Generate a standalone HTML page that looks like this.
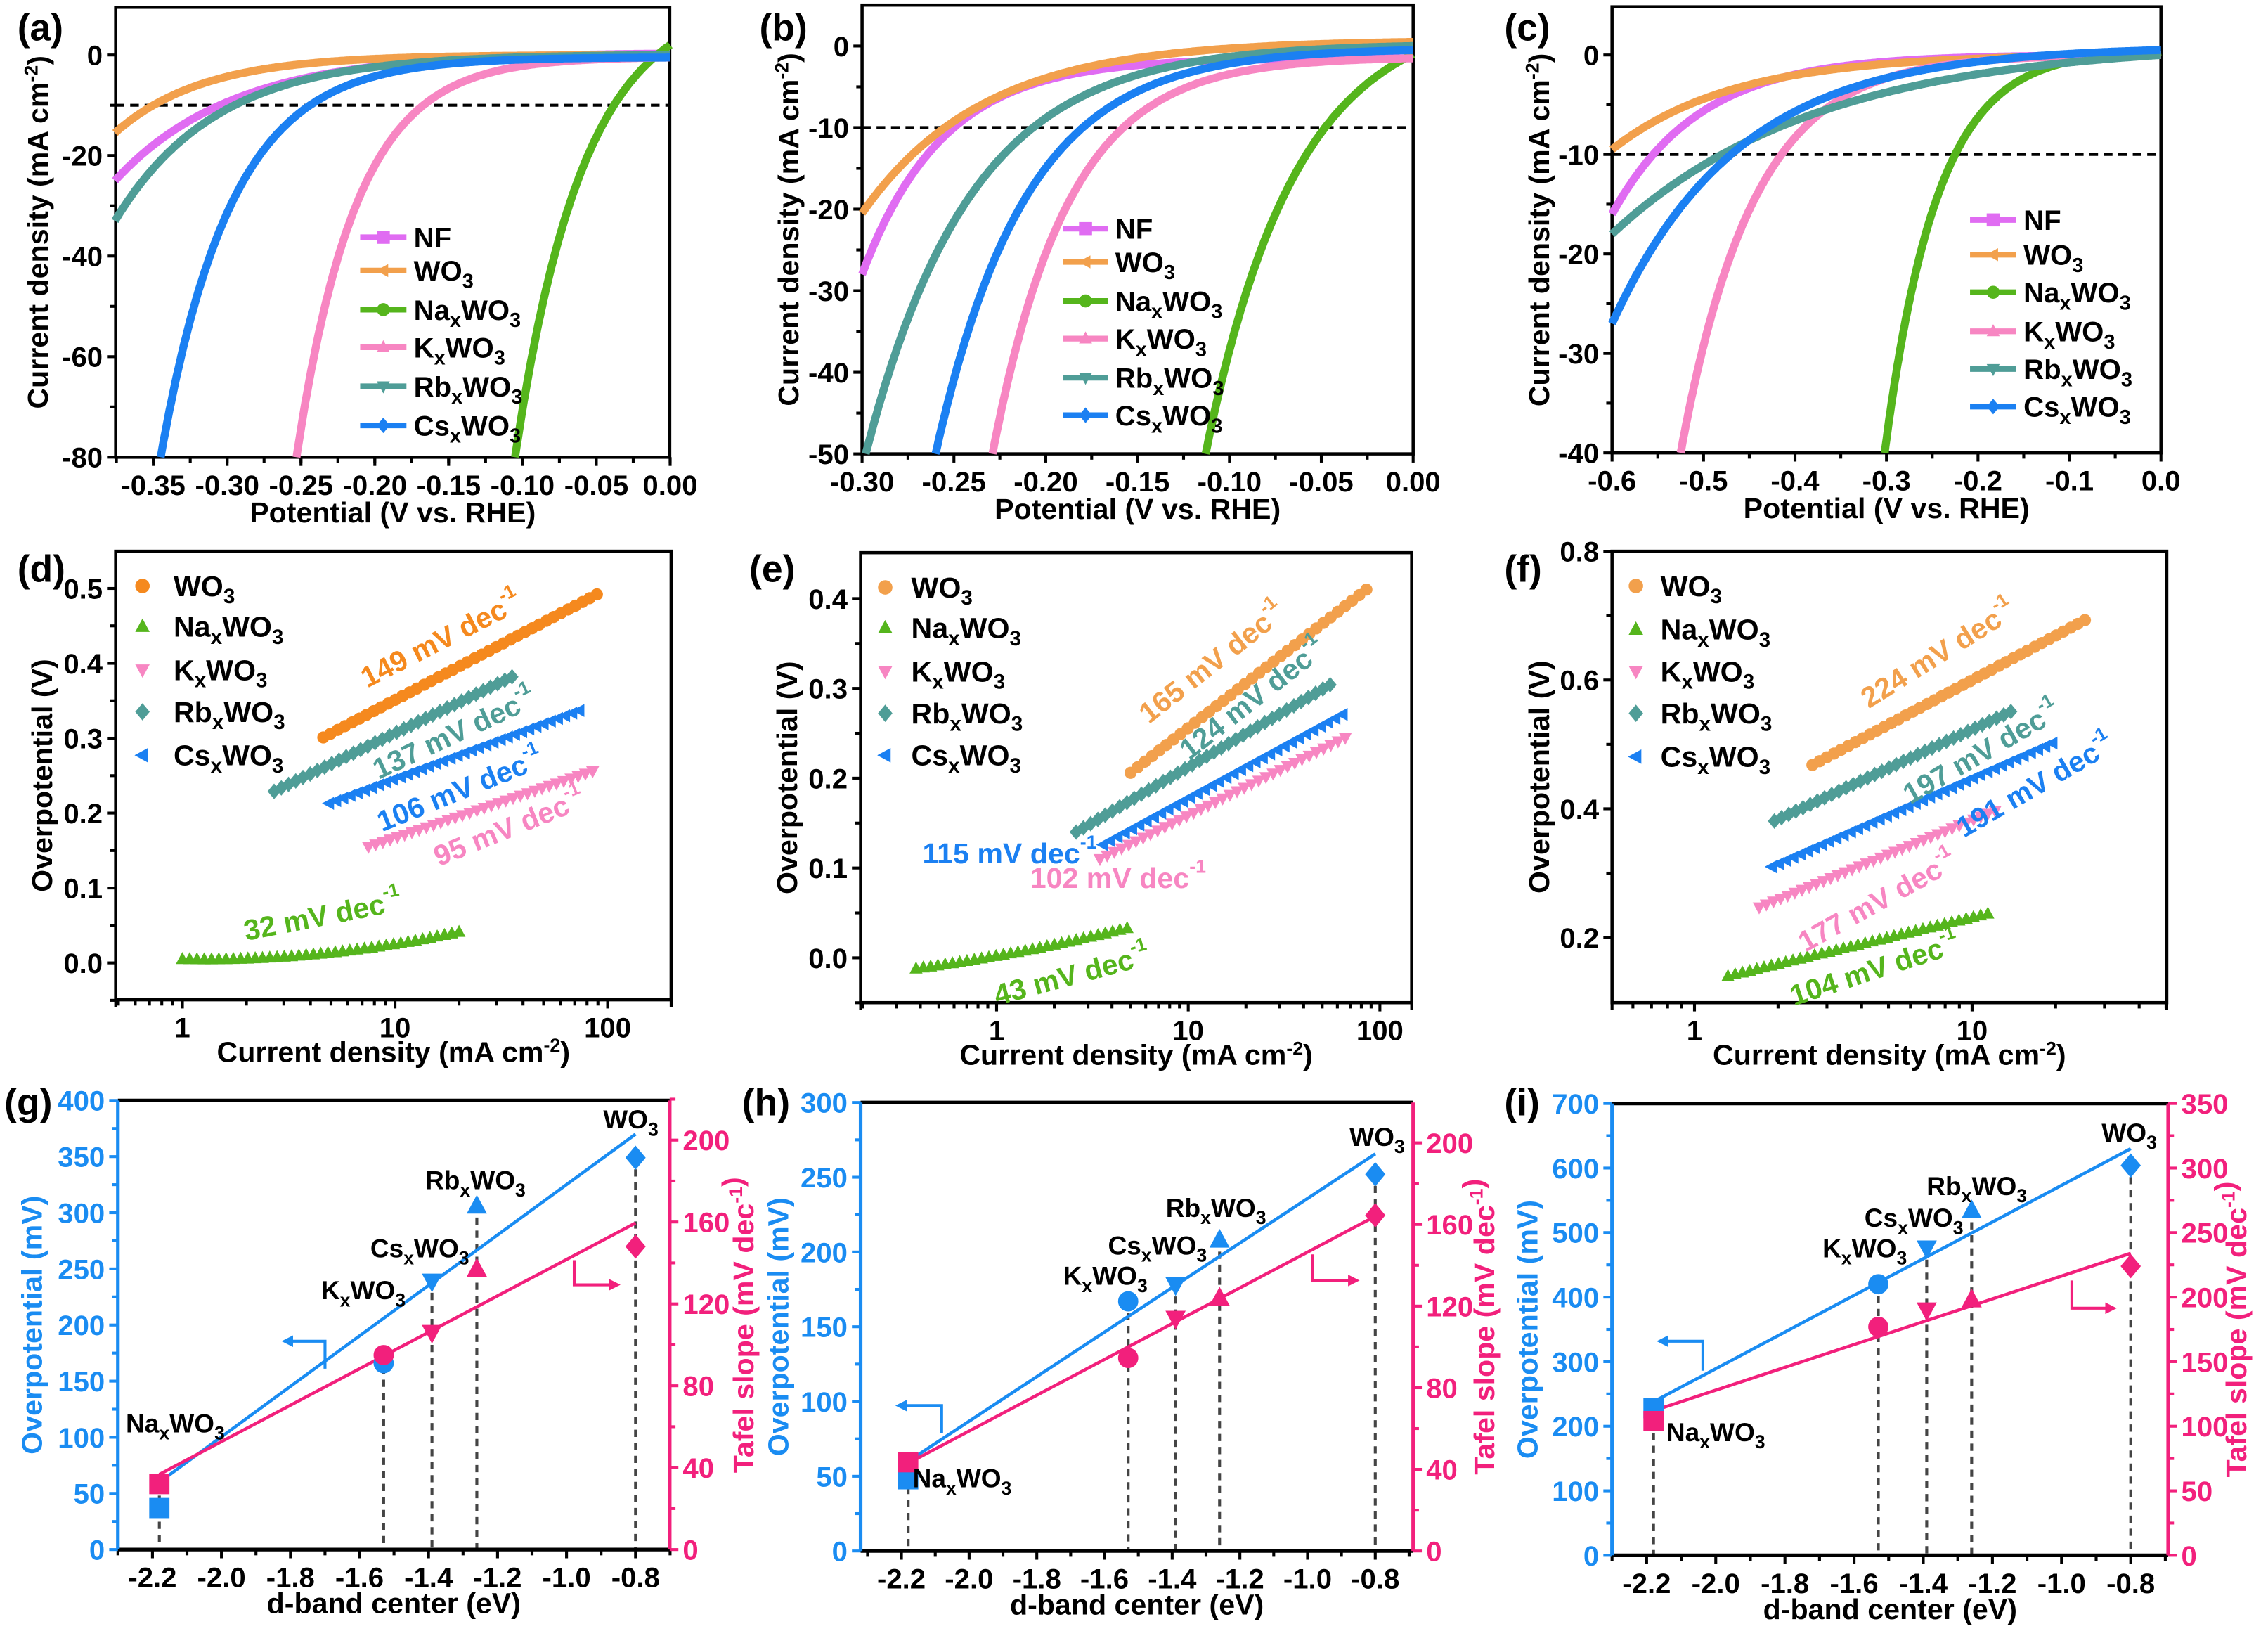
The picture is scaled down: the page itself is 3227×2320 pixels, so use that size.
<!DOCTYPE html>
<html><head><meta charset="utf-8"><style>
html,body{margin:0;padding:0;background:#fff;}
svg{display:block;font-family:"Liberation Sans",Arial,sans-serif;font-weight:bold;}
</style></head><body>
<svg id="s" width="3227" height="2320" viewBox="0 0 1568 1127.3" preserveAspectRatio="none" xmlns="http://www.w3.org/2000/svg"></svg>
<script>
const o=[];
const lin=(p0,p1,v0,v1)=>v=>p0+(v-v0)*(p1-p0)/(v1-v0);
const L10=Math.log10;
function T(x,y,txt,opt={}){
  const fs=opt.fs||19,c=opt.c||'#000',a=opt.a||'start';
  const tr=opt.r!=null?` transform="rotate(${opt.r} ${x} ${y})"`:'';
  const db=opt.mid?` dominant-baseline="central"`:'';
  o.push(`<text x="${x}" y="${y}" font-size="${fs}" fill="${c}" text-anchor="${a}"${db}${tr}>${txt}</text>`);
}
const sub=s=>`<tspan dy="5" font-size="72%">${s}</tspan>`;
const chem=pre=>pre?`${pre}${sub('x')}<tspan dy="-5">WO</tspan>${sub('3')}`:`WO${sub('3')}`;
const dec=`dec<tspan dy="-8" font-size="65%">-1</tspan>`;
const cm2=`cm<tspan dy="-7" font-size="65%">-2</tspan><tspan dy="7">)</tspan>`;
function line(x1,y1,x2,y2,c,w,extra=''){o.push(`<line x1="${x1}" y1="${y1}" x2="${x2}" y2="${y2}" stroke="${c}" stroke-width="${w}" ${extra}/>`);}
function mk(t,x,y,s,c){
  let p;
  if(t==='o'){o.push(`<circle cx="${x}" cy="${y}" r="${s}" fill="${c}"/>`);return;}
  if(t==='s'){o.push(`<rect x="${x-s}" y="${y-s}" width="${2*s}" height="${2*s}" fill="${c}"/>`);return;}
  if(t==='u')p=[[x,y-s*1.1],[x+s,y+s*.75],[x-s,y+s*.75]];
  if(t==='d')p=[[x,y+s*1.1],[x+s,y-s*.75],[x-s,y-s*.75]];
  if(t==='D')p=[[x,y-s*1.2],[x+s,y],[x,y+s*1.2],[x-s,y]];
  if(t==='l')p=[[x-s*1.1,y],[x+s*.75,y-s],[x+s*.75,y+s]];
  o.push(`<polygon points="${p.map(q=>q.join(',')).join(' ')}" fill="${c}"/>`);
}
function frame(x0,y0,x1,y1){o.push(`<rect x="${x0}" y="${y0}" width="${x1-x0}" height="${y1-y0}" fill="none" stroke="#000" stroke-width="2.2"/>`);}
function xt(mx,y1,vals,lab,len,fmt,c='#000'){vals.forEach(v=>{const x=mx(v);line(x,y1,x,y1+len,c,2);if(lab)T(x,y1+26,fmt(v),{a:'middle',fs:19.5});});}
function yt(my,x0,vals,lab,len,fmt,c='#000',side=-1){vals.forEach(v=>{const y=my(v);line(x0,y,x0+side*len,y,c,2);if(lab)T(x0+side*(len+3),y+7,fmt(v),{a:side<0?'end':'start',c,fs:19.5});});}
const rng=(a,b,s)=>{const r=[];for(let v=a;v<=b+1e-9;v+=s)r.push(+v.toFixed(6));return r;};
function fit(p){
  let best=null;
  for(let b=0.004;b<1.5;b*=1.005){
    const e1=Math.exp(-p[0][0]/b),e3=Math.exp(-p[2][0]/b);
    const A=(p[2][1]-p[0][1])/(e1-e3);const c=p[0][1]+A*e1;
    const err=Math.abs(c-A*Math.exp(-p[1][0]/b)-p[1][1]);
    if(!best||err<best.err)best={A,c,b,err};
  }
  return E=>best.c-best.A*Math.exp(-E/best.b);
}
function lsv(mx,my,xmin,ymin,ymax,pts,col){
  const f=fit(pts);let d='';
  for(let E=xmin;E<=0.00001;E+=0.001){let j=f(E);if(j<ymin)continue;if(j>ymax)j=ymax;d+=(d?'L':'M')+mx(E).toFixed(1)+','+my(j).toFixed(1);}
  o.push(`<path d="${d}" fill="none" stroke="${col}" stroke-width="5.5" stroke-linejoin="round"/>`);
}
const C={NF:'#e06cf2',WO:'#f2a04c',Na:'#55b51c',K:'#f786c2',Rb:'#4f9d97',Cs:'#1b80f2',WOd:'#f5891e'};
function lsvPanel(P){
  frame(P.x0,P.y0,P.x1,P.y1);
  xt(P.mx,P.y1,P.xmaj,true,6,P.xf);xt(P.mx,P.y1,P.xmin_,false,4);
  yt(P.my,P.x0,P.ymaj,true,6,v=>v);yt(P.my,P.x0,P.ymin_,false,4);
  line(P.x0,P.my(-10),P.x1,P.my(-10),'#000',2,'stroke-dasharray="6,4"');
  const keys=['NF','WO','Na','K','Rb','Cs'];
  keys.forEach(k=>lsv(P.mx,P.my,P.xl,P.yl,P.yh,P.c[k],C[k]));
  const names={NF:'NF',WO:chem(''),Na:chem('Na'),K:chem('K'),Rb:chem('Rb'),Cs:chem('Cs')};
  const mt={NF:'s',WO:'l',Na:'o',K:'u',Rb:'d',Cs:'D'};
  keys.forEach((k,i)=>{const y=P.leg.y[i];line(P.leg.x1,y,P.leg.x2,y,C[k],4);mk(mt[k],(P.leg.x1+P.leg.x2)/2,y,4.5,C[k]);T(P.leg.tx,y+7,names[k],{fs:19.5});});
  T((P.x0+P.x1)/2,P.y1+45,'Potential (V vs. RHE)',{a:'middle',fs:20});
  T(P.yt,(P.y0+P.y1)/2,'Current density (mA '+cm2,{a:'middle',fs:20,r:-90});
}
lsvPanel({x0:80,x1:463,y0:5,y1:316,mx:lin(106,463.3,-0.35,0),my:lin(38,316,0,-80),xl:-0.376,yl:-80,yh:9,
 xmaj:rng(-0.35,0,0.05),xmin_:rng(-0.375,0,0.025),xf:v=>v.toFixed(2),ymaj:[0,-20,-40,-60,-80],ymin_:[-10,-30,-50,-70],
 c:{NF:[[-0.376,-25],[-0.305,-10],[0,0.3]],WO:[[-0.376,-15.5],[-0.35,-10],[0,0]],Na:[[-0.105,-80],[-0.038,-10],[0,2]],
    K:[[-0.253,-80],[-0.167,-10],[0,-0.5]],Rb:[[-0.376,-33],[-0.295,-10],[0,0]],Cs:[[-0.345,-80],[-0.244,-10],[0,-0.5]]},
 leg:{x1:249,x2:281,tx:286,y:[164,187,214,240,267,294]},yt:33});
lsvPanel({x0:596,x1:977,y0:3.5,y1:313.7,mx:lin(596,977,-0.30,0),my:lin(31.8,313.7,0,-50),xl:-0.30,yl:-50,yh:4.5,
 xmaj:rng(-0.30,0,0.05),xmin_:rng(-0.275,0,0.05),xf:v=>v.toFixed(2),ymaj:[0,-10,-20,-30,-40,-50],ymin_:[-5,-15,-25,-35,-45],
 c:{NF:[[-0.30,-28],[-0.25,-10],[0,-1.5]],WO:[[-0.30,-20.5],[-0.255,-10],[0,0.5]],Na:[[-0.113,-50],[-0.048,-10],[0,-1]],
    K:[[-0.229,-50],[-0.158,-10],[0,-1.5]],Rb:[[-0.298,-50],[-0.207,-10],[0,0]],Cs:[[-0.26,-50],[-0.18,-10],[0,-0.5]]},
 leg:{x1:735,x2:766,tx:771,y:[158,181,208,234,261,287]},yt:552});
lsvPanel({x0:1114.5,x1:1494,y0:4.7,y1:313,mx:lin(1114.5,1494,-0.6,0),my:lin(38,313,0,-40),xl:-0.6,yl:-40,yh:4.5,
 xmaj:rng(-0.6,0,0.1),xmin_:rng(-0.55,0,0.1),xf:v=>v.toFixed(1),ymaj:[0,-10,-20,-30,-40],ymin_:[-5,-15,-25,-35],
 c:{NF:[[-0.6,-16],[-0.555,-10],[0,0]],WO:[[-0.6,-9.5],[-0.45,-3],[0,0]],Na:[[-0.302,-40],[-0.225,-10],[0,0.3]],
    K:[[-0.525,-40],[-0.415,-10],[0,0]],Rb:[[-0.6,-18],[-0.48,-10],[0,0]],Cs:[[-0.6,-27],[-0.47,-10],[0,0.5]]},
 leg:{x1:1362,x2:1394,tx:1399,y:[152,176,202,229,255,281]},yt:1071});
function tafel(P){
  frame(P.x0,P.y0,P.x1,P.y1);
  const lo=P.lx[0],hi=P.lx[1];
  for(let d=Math.floor(lo);d<=Math.ceil(hi);d++){for(let m=1;m<10;m++){const L=d+L10(m);if(L<lo-1e-6||L>hi+1e-6)continue;const x=P.x(Math.pow(10,L));line(x,P.y1,x,P.y1+(m===1?6:4),'#000',2);if(m===1)T(x,P.y1+26,String(Math.round(Math.pow(10,d))),{a:'middle',fs:19.5});}}
  line(P.x0,P.y1,P.x0,P.y1+5,'#000',2);line(P.x1,P.y1,P.x1,P.y1+5,'#000',2);
  yt(P.y,P.x0,P.ymaj,true,6,P.yf);yt(P.y,P.x0,P.ymin_,false,4);
  const S=[['Na','u',C.Na],['K','d',C.K],['Rb','D',C.Rb],['Cs','l',C.Cs],['WO','o',P.woc]];
  S.forEach(([k,t,c])=>{const s=P.s[k];const x0=P.x(s[0]),x1=P.x(s[2]);const n=Math.max(8,Math.round((x1-x0)/5));
    for(let i=0;i<=n;i++){const f=i/n;const L=L10(s[0])+(L10(s[2])-L10(s[0]))*f;let v=s[1]+(s[3]-s[1])*f;if(s[4])v=s[4](L);mk(t,P.x(Math.pow(10,L)),P.y(v),t==='o'?4.2:4.5,c);}});
  const leg=[['WO','o',P.woc,chem('')],['Na','u',C.Na,chem('Na')],['K','d',C.K,chem('K')],['Rb','D',C.Rb,chem('Rb')],['Cs','l',C.Cs,chem('Cs')]];
  leg.forEach(([k,t,c,n],i)=>{mk(t,P.lg.mx,P.lg.y[i],5,c);T(P.lg.tx,P.lg.y[i]+7,n,{fs:20});});
  P.lab.forEach(l=>T(l[0],l[1],l[2]+' mV '+dec,{a:'middle',mid:true,fs:20,c:l[3],r:l[4]}));
  T((P.x0+P.x1)/2,P.y1+43,'Current density (mA '+cm2,{a:'middle',fs:20});
  T(P.yt,(P.y0+P.y1)/2,'Overpotential (V)',{a:'middle',fs:20,r:-90});
}
tafel({x0:80,x1:464,y0:381,y1:691,x:v=>126.1+L10(v)*147,lx:[-0.31,2.3],y:lin(665.5,406.7,0,0.5),ymaj:rng(0,0.5,0.1),ymin_:rng(0.05,0.45,0.1).concat([-0.05]),yf:v=>v.toFixed(1),woc:C.WOd,
 s:{WO:[4.6,0.301,89,0.492],Rb:[2.7,0.229,35.5,0.382],Cs:[4.9,0.213,73.7,0.337],K:[7.5,0.155,85,0.256],Na:[1,0.005,20,0.045,L=>0.005-0.006*L+0.026*L*L]},
 lg:{mx:98.5,tx:120,y:[405,433,463,492,522]},
 lab:[[305,442,'149',C.WOd,-27],[314,507,'137',C.Rb,-25],[318,546,'106',C.Cs,-22],[352,572,'95',C.K,-22],[223,633,'32',C.Na,-11]],yt:36});
tafel({x0:595,x1:976,y0:382,y1:693,x:v=>689+L10(v)*132.5,lx:[-0.709,2.166],y:lin(662,413.7,0,0.4),ymaj:rng(0,0.4,0.1),ymin_:[-0.05,0.05,0.15,0.25,0.35],yf:v=>v.toFixed(1),woc:C.WO,
 s:{WO:[5,0.206,85,0.41],Rb:[2.6,0.14,55,0.304],Cs:[3.6,0.126,64,0.271],K:[3.46,0.11,66,0.245],Na:[0.38,-0.012,4.8,0.033,L=>0.002+0.038*L+0.011*L*L]},
 lg:{mx:612,tx:630,y:[406,434,464,493,522]},
 lab:[[838,458,'165',C.WO,-38],[866,483,'124',C.Rb,-38],[698,590,'115',C.Cs,0],[773,607,'102',C.K,0],[741,674,'43',C.Na,-15]],yt:551});
tafel({x0:1114.5,x1:1498,y0:381,y1:693,x:v=>1171.5+L10(v)*191.9,lx:[-0.2996,1.699],y:lin(648,381,0.2,0.8),ymaj:[0.2,0.4,0.6,0.8],ymin_:[0.3,0.5,0.7],yf:v=>v.toFixed(1),woc:C.WO,
 s:{WO:[2.66,0.468,25.5,0.693],Rb:[1.94,0.381,13.8,0.551],Cs:[1.9,0.31,19.5,0.502],K:[1.71,0.247,12.1,0.397],Na:[1.32,0.14,11.4,0.237]},
 lg:{mx:1131,tx:1148,y:[405,435,464,493,523]},
 lab:[[1340,452,'224',C.WO,-32],[1370,520,'197',C.Rb,-30],[1407,543,'191',C.Cs,-30],[1298,623,'177',C.K,-29],[1296,670,'104',C.Na,-18]],yt:1071});
const B='#1a8cf2',R='#f2207c';
function dband(P){
  const mx=P.mx,yl=P.yl,yr=P.yr;
  const xs=[-2.18,-1.53,-1.39,-1.26,-0.8];
  xs.forEach((x,i)=>{line(mx(x),Math.min(yl(P.b[i]),yr(P.p[i]))+8,mx(x),P.y1,'#444',2,'stroke-dasharray="5,4"');});
  line(mx(-2.18),yl(P.fb[0]),mx(-0.8),yl(P.fb[1]),B,2.2);
  line(mx(-2.18),yr(P.fp[0]),mx(-0.8),yr(P.fp[1]),R,2.2);
  const mt=['s','o','d','u','D'];
  xs.forEach((x,i)=>{mk(mt[i],mx(x),yl(P.b[i]),7,B);mk(mt[i],mx(x),yr(P.p[i]),7,R);});
  line(P.x0,P.y0,P.x1,P.y0,'#000',2.5);line(P.x0,P.y1,P.x1,P.y1,'#000',2.5);
  line(P.x0,P.y0,P.x0,P.y1,B,2.5);line(P.x1,P.y0,P.x1,P.y1,R,2.5);
  xt(mx,P.y1,rng(-2.2,-0.8,0.2),true,6,v=>v.toFixed(1));xt(mx,P.y1,rng(-2.3,-0.7,0.2),false,4);
  yt(yl,P.x0,P.lmaj,true,6,v=>v,B);yt(yl,P.x0,P.lmin,false,4,null,B);
  yt(yr,P.x1,P.rmaj,true,6,v=>v,R,1);yt(yr,P.x1,P.rmin,false,4,null,R,1);
  P.labs.forEach(l=>T(l[0],l[1],l[2],{fs:18}));
  const a=P.ab;o.push(`<path d="M${a[0]},${a[1]} V${a[2]} H${a[3]+6}" fill="none" stroke="${B}" stroke-width="2"/>`);
  o.push(`<polygon points="${a[3]},${a[2]} ${a[3]+8},${a[2]-4} ${a[3]+8},${a[2]+4}" fill="${B}"/>`);
  const r=P.ar;o.push(`<path d="M${r[0]},${r[1]} V${r[2]} H${r[3]-6}" fill="none" stroke="${R}" stroke-width="2"/>`);
  o.push(`<polygon points="${r[3]},${r[2]} ${r[3]-8},${r[2]-4} ${r[3]-8},${r[2]+4}" fill="${R}"/>`);
  T((P.x0+P.x1)/2,P.y1+44,'d-band center (eV)',{a:'middle',fs:20});
  T(P.ytl,(P.y0+P.y1)/2,'Overpotential (mV)',{a:'middle',fs:20,r:-90,c:B});
  T(P.ytr,(P.y0+P.y1)/2,'Tafel slope (mV '+dec+')',{a:'middle',fs:20,r:-90,c:R});
}
dband({x0:81.5,x1:463,y0:760.6,y1:1071,mx:lin(105.4,439.4,-2.2,-0.8),yl:lin(1071,760.6,0,400),yr:lin(1071,788,0,200),
 b:[37,166,239,306,349],p:[32,95,106,137,148],fb:[60,370],fp:[36.7,159.5],
 lmaj:rng(0,400,50),lmin:rng(25,375,50),rmaj:rng(0,200,40),rmin:rng(20,220,40),
 labs:[[87,990,chem('Na')],[222,898,chem('K')],[256,869,chem('Cs')],[294,822,chem('Rb')],[417,780,chem('')]],
 ab:[224.7,946,927,194.6],ar:[397,871,888,429],ytl:29,ytr:521});
dband({x0:595,x1:977,y0:762,y1:1072,mx:lin(623.2,950.8,-2.2,-0.8),yl:lin(1072,762,0,300),yr:lin(1072,789.9,0,200),
 b:[48,167,178,208,252],p:[43.5,94.6,114,124,164.5],fb:[60,265.6],fp:[43,164],
 lmaj:rng(0,300,50),lmin:rng(25,275,50),rmaj:rng(0,200,40),rmin:rng(20,180,40),
 labs:[[631,1028,chem('Na')],[735,888,chem('K')],[766,867,chem('Cs')],[806,841,chem('Rb')],[933,792,chem('')]],
 ab:[651,990.6,971.5,619],ar:[907.4,867,885,940],ytl:545,ytr:1033});
dband({x0:1114.5,x1:1499,y0:762.7,y1:1075,mx:lin(1138.4,1473.1,-2.2,-0.8),yl:lin(1075,762.7,0,700),yr:lin(1075,762.7,0,350),
 b:[228,420,476,534,604],p:[104,177,190,198,224],fb:[238,630],fp:[112,234],
 lmaj:rng(0,700,100),lmin:rng(50,650,100),rmaj:rng(0,350,50),rmin:rng(25,325,50),
 labs:[[1152,996,chem('Na')],[1260,869,chem('K')],[1289,848,chem('Cs')],[1332,826,chem('Rb')],[1453,789,chem('')]],
 ab:[1177.3,947.4,927,1145.3],ar:[1432.4,885,904.2,1463.5],ytl:1063,ytr:1553});
[['(a)',12,28],['(b)',525,28],['(c)',1040,28],['(d)',12,402],['(e)',518,402],['(f)',1040,402],['(g)',3,771],['(h)',513,771],['(i)',1040,771]].forEach(l=>T(l[1],l[2],l[0],{fs:26}));
document.getElementById('s').innerHTML=o.join('');
</script>
</body></html>
